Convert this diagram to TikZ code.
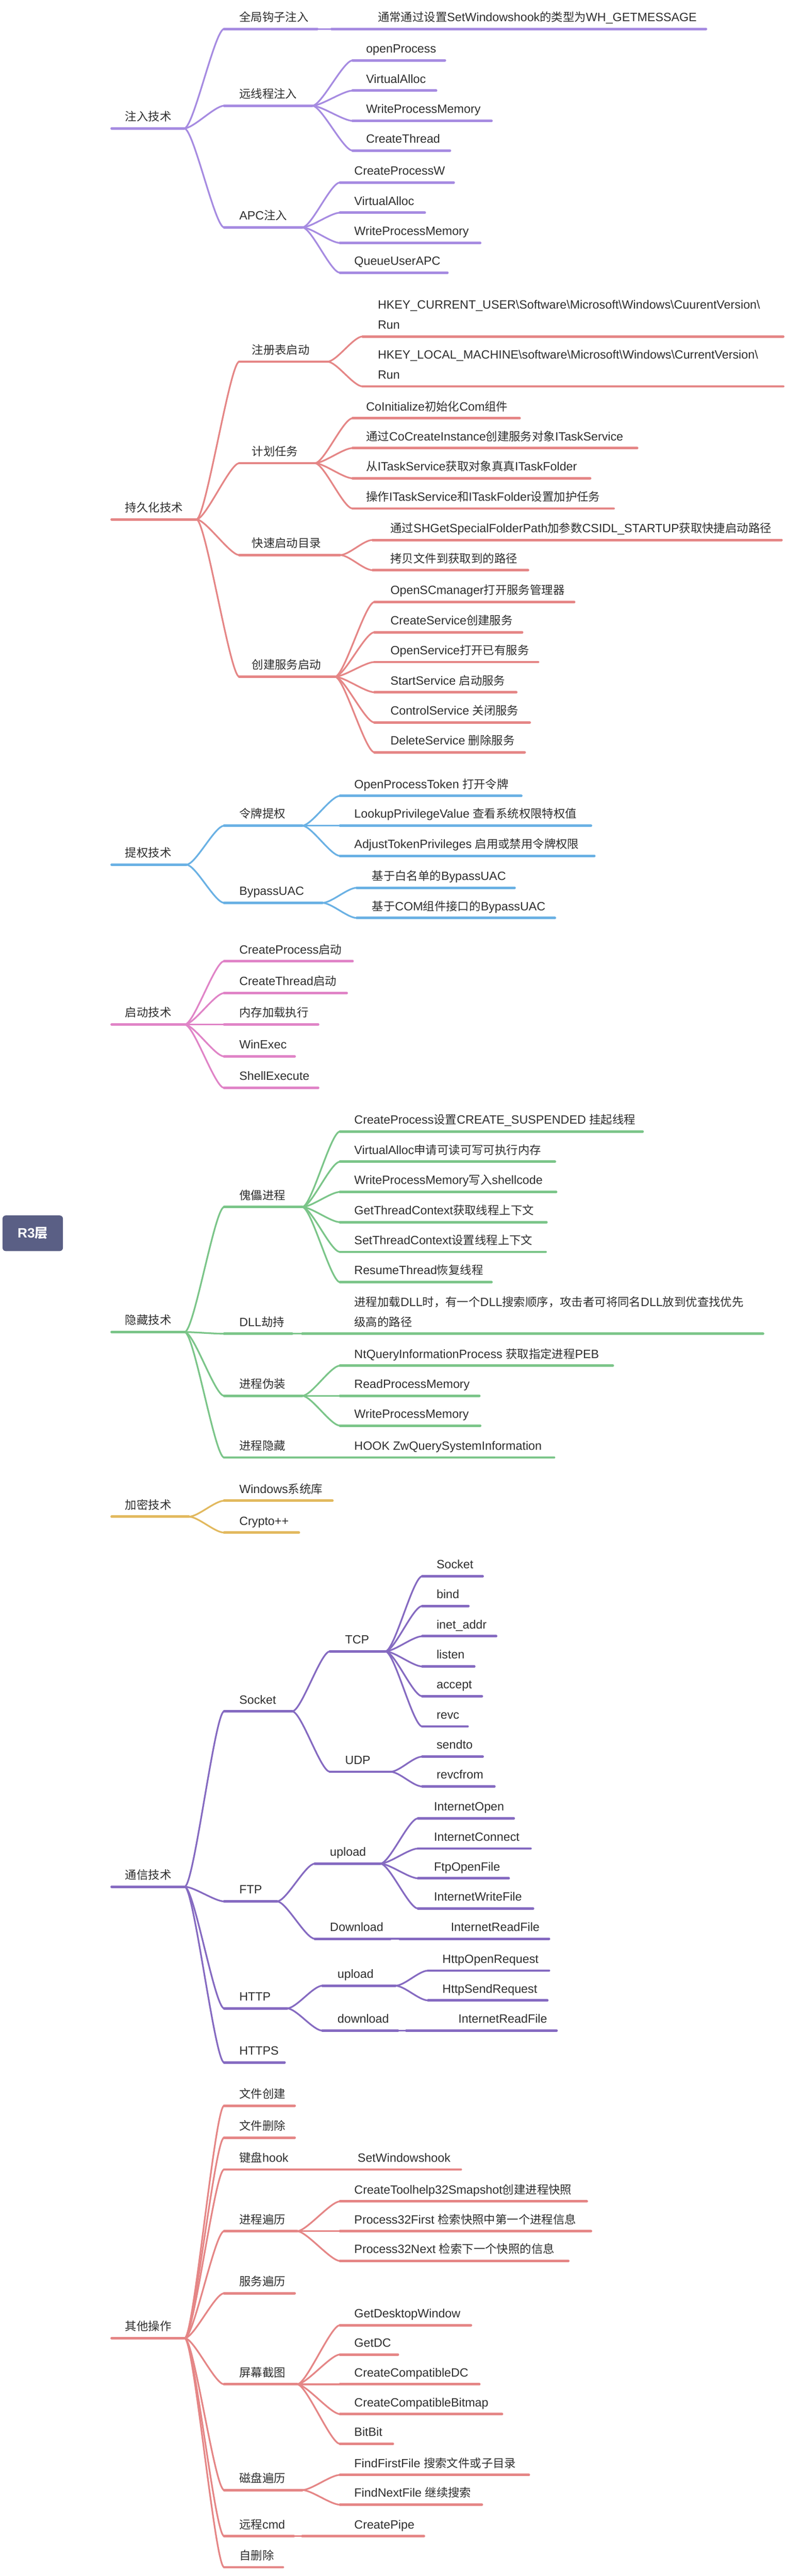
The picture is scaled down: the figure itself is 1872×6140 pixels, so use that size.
\documentclass[tikz,border=0pt]{standalone}
\usepackage{fontspec}
\setmainfont{Liberation Sans}[Scale=1.04]
\newfontfamily\cjk{Noto Sans CJK SC}
\usetikzlibrary{calc}
\pgfdeclarelayer{background}
\pgfsetlayers{background,main}
% automatic switch to the CJK font for Chinese characters
\XeTeXinterchartokenstate=1
\newXeTeXintercharclass\CJKcls
\newcount\cjkcnt
\cjkcnt="4E00
\loop
  \XeTeXcharclass\cjkcnt=\CJKcls
  \ifnum\cjkcnt<"9FFF \advance\cjkcnt by 1
\repeat
\XeTeXcharclass"FF0C=\CJKcls
\XeTeXcharclass"3001=\CJKcls
\XeTeXcharclass"3002=\CJKcls
\XeTeXinterchartoks 0 \CJKcls = {\cjk}
\XeTeXinterchartoks 4095 \CJKcls = {\cjk}
\XeTeXinterchartoks \CJKcls 0 = {\rmfamily}
\XeTeXinterchartoks \CJKcls 4095 = {\rmfamily}

\definecolor{purpleA}{HTML}{A68BE1}
\definecolor{redA}{HTML}{E58686}
\definecolor{blueA}{HTML}{6AB1E4}
\definecolor{pinkA}{HTML}{E084C7}
\definecolor{greenA}{HTML}{7BC589}
\definecolor{yellowA}{HTML}{E2B95E}
\definecolor{purpleB}{HTML}{856AC1}
\definecolor{rootc}{HTML}{5A5F85}
\definecolor{textc}{HTML}{2E2E2E}

\tikzset{
  txt/.style={inner sep=0pt, anchor=base west, text=textc, font=\fontsize{27.5}{47.5}\selectfont},
  uline/.style={line width=6pt, line cap=round},
  cline/.style={line width=4pt, line cap=round},
  rline/.style={line width=3.5pt, line cap=round},
  rootbox/.style={rectangle, rounded corners=8pt, fill=rootc, text=white, inner sep=0pt,
    minimum width=144pt, minimum height=85pt, font=\bfseries\fontsize{31}{36}\selectfont},
}
% name, colour, text x, underline y, underline start, underline end, text
\newcommand\mnode[7]{%
  \coordinate (#1-s) at (#5,#4);
  \coordinate (#1-e) at (#6,#4);
  \draw[uline,draw=#2] (#1-s) -- (#1-e);
  \node[txt] (#1) at (#3,#4-18) {#7};}
\newcommand\conn[3]{\draw[cline,draw=#1] (#2-e) .. controls ($(#2-e)+(22,0)$) and ($(#3-s)+(-22,0)$) .. (#3-s);}
\newcommand\rconn[4]{\draw[rline,draw=#1] (#2) .. controls ($(#2)+(#4)$) and ($(#3-s)+(-40,0)$) .. (#3-s);}
\newcommand\twol[2]{\begin{tabular}[b]{@{}l@{}}#1\\#2\end{tabular}}

\begin{document}
\begin{tikzpicture}[x=1pt,y=-1pt]
\useasboundingbox (0,0) rectangle (1872,6140);
\fill[white] (0,0) rectangle (1872,6140);

% ---------- root ----------
\node[rootbox] (root) at (78,2939.5) {R3层};
\coordinate (rA) at ($(root.north west)+(104,6)$);
\coordinate (rB) at ($(root.north west)+(112,6)$);
\coordinate (rC) at ($(root.north west)+(120,6)$);
\coordinate (rD) at ($(root.north west)+(128,6)$);
\coordinate (rE) at ($(root.south west)+(140,-6)$);
\coordinate (rF) at ($(root.south west)+(124,-6)$);
\coordinate (rG) at ($(root.south west)+(114,-6)$);
\coordinate (rH) at ($(root.south west)+(104,-6)$);

% ---------- level 1 ----------
\mnode{L1a}{purpleA}{298}{306}{266}{439}{注入技术}
\mnode{L1b}{redA}{298}{1238}{266}{468}{持久化技术}
\mnode{L1c}{blueA}{298}{2061}{266}{444}{提权技术}
\mnode{L1d}{pinkA}{298}{2442}{266}{440}{启动技术}
\mnode{L1e}{greenA}{298}{3175}{266}{440}{隐藏技术}
\mnode{L1f}{yellowA}{298}{3615}{266}{450}{加密技术}
\mnode{L1g}{purpleB}{298}{4497}{266}{440}{通信技术}
\mnode{L1h}{redA}{298}{5573}{266}{440}{其他操作}

\begin{pgfonlayer}{background}
\rconn{purpleA}{rA}{L1a}{25,-150}
\rconn{redA}{rB}{L1b}{25,-150}
\rconn{blueA}{rC}{L1c}{25,-150}
\rconn{pinkA}{rD}{L1d}{25,-150}
\rconn{greenA}{rE}{L1e}{22,75}
\rconn{yellowA}{rF}{L1f}{25,150}
\rconn{purpleB}{rG}{L1g}{25,150}
\rconn{redA}{rH}{L1h}{25,150}
\end{pgfonlayer}

% ---------- 注入技术 ----------
\mnode{a1}{purpleA}{570}{69}{534}{756}{全局钩子注入}
\mnode{a1a}{purpleA}{900}{69}{790}{1682}{通常通过设置SetWindowshook的类型为WH\_GETMESSAGE}
\mnode{a2}{purpleA}{570}{252}{534}{744}{远线程注入}
\mnode{a2a}{purpleA}{872}{144}{840}{1060}{openProcess}
\mnode{a2b}{purpleA}{872}{216}{840}{1039}{VirtualAlloc}
\mnode{a2c}{purpleA}{872}{288}{840}{1171}{WriteProcessMemory}
\mnode{a2d}{purpleA}{872}{359}{840}{1072}{CreateThread}
\mnode{a3}{purpleA}{570}{542}{534}{720}{APC注入}
\mnode{a3a}{purpleA}{844}{435}{810}{1081}{CreateProcessW}
\mnode{a3b}{purpleA}{844}{507}{810}{1012}{VirtualAlloc}
\mnode{a3c}{purpleA}{844}{579}{810}{1144}{WriteProcessMemory}
\mnode{a3d}{purpleA}{844}{650}{810}{1066}{QueueUserAPC}
\foreach \c in {a1,a2,a3} {\conn{purpleA}{L1a}{\c}}
\conn{purpleA}{a1}{a1a}
\foreach \c in {a2a,a2b,a2c,a2d} {\conn{purpleA}{a2}{\c}}
\foreach \c in {a3a,a3b,a3c,a3d} {\conn{purpleA}{a3}{\c}}

% ---------- 持久化技术 ----------
\mnode{b1}{redA}{600}{862}{570}{780}{注册表启动}
\mnode{b1a}{redA}{900}{802}{864}{1866}{\twol{HKEY\_CURRENT\_USER\textbackslash Software\textbackslash Microsoft\textbackslash Windows\textbackslash CuurentVersion\textbackslash}{Run}}
\mnode{b1b}{redA}{900}{921}{864}{1866}{\twol{HKEY\_LOCAL\_MACHINE\textbackslash software\textbackslash Microsoft\textbackslash Windows\textbackslash CurrentVersion\textbackslash}{Run}}
\mnode{b2}{redA}{600}{1104}{570}{750}{计划任务}
\mnode{b2a}{redA}{872}{997}{840}{1238}{CoInitialize初始化Com组件}
\mnode{b2b}{redA}{872}{1068}{840}{1518}{通过CoCreateInstance创建服务对象ITaskService}
\mnode{b2c}{redA}{872}{1140}{840}{1406}{从ITaskService获取对象真真ITaskFolder}
\mnode{b2d}{redA}{872}{1212}{840}{1462}{操作ITaskService和ITaskFolder设置加护任务}
\mnode{b3}{redA}{600}{1323}{570}{810}{快速启动目录}
\mnode{b3a}{redA}{930}{1287}{888}{1862}{通过SHGetSpecialFolderPath加参数CSIDL\_STARTUP获取快捷启动路径}
\mnode{b3b}{redA}{930}{1359}{888}{1258}{拷贝文件到获取到的路径}
\mnode{b4}{redA}{600}{1613}{570}{798}{创建服务启动}
\mnode{b4a}{redA}{930}{1435}{892}{1368}{OpenSCmanager打开服务管理器}
\mnode{b4b}{redA}{930}{1507}{892}{1244}{CreateService创建服务}
\mnode{b4c}{redA}{930}{1578}{892}{1282}{OpenService打开已有服务}
\mnode{b4d}{redA}{930}{1650}{892}{1230}{StartService 启动服务}
\mnode{b4e}{redA}{930}{1722}{892}{1262}{ControlService 关闭服务}
\mnode{b4f}{redA}{930}{1793}{892}{1250}{DeleteService 删除服务}
\foreach \c in {b1,b2,b3,b4} {\conn{redA}{L1b}{\c}}
\foreach \c in {b1a,b1b} {\conn{redA}{b1}{\c}}
\foreach \c in {b2a,b2b,b2c,b2d} {\conn{redA}{b2}{\c}}
\foreach \c in {b3a,b3b} {\conn{redA}{b3}{\c}}
\foreach \c in {b4a,b4b,b4c,b4d,b4e,b4f} {\conn{redA}{b4}{\c}}

% ---------- 提权技术 ----------
\mnode{c1}{blueA}{570}{1968}{534}{720}{令牌提权}
\mnode{c1a}{blueA}{844}{1897}{810}{1242}{OpenProcessToken 打开令牌}
\mnode{c1b}{blueA}{844}{1968}{810}{1408}{LookupPrivilegeValue 查看系统权限特权值}
\mnode{c1c}{blueA}{844}{2040}{810}{1416}{AdjustTokenPrivileges 启用或禁用令牌权限}
\mnode{c2}{blueA}{570}{2152}{534}{768}{BypassUAC}
\mnode{c2a}{blueA}{886}{2116}{850}{1226}{基于白名单的BypassUAC}
\mnode{c2b}{blueA}{886}{2188}{850}{1322}{基于COM组件接口的BypassUAC}
\foreach \c in {c1,c2} {\conn{blueA}{L1c}{\c}}
\foreach \c in {c1a,c1b,c1c} {\conn{blueA}{c1}{\c}}
\foreach \c in {c2a,c2b} {\conn{blueA}{c2}{\c}}

% ---------- 启动技术 ----------
\mnode{d1}{pinkA}{570}{2291}{534}{840}{CreateProcess启动}
\mnode{d2}{pinkA}{570}{2367}{534}{826}{CreateThread启动}
\mnode{d3}{pinkA}{570}{2442}{534}{758}{内存加载执行}
\mnode{d4}{pinkA}{570}{2518}{534}{702}{WinExec}
\mnode{d5}{pinkA}{570}{2593}{534}{758}{ShellExecute}
\foreach \c in {d1,d2,d3,d4,d5} {\conn{pinkA}{L1d}{\c}}

% ---------- 隐藏技术 ----------
\mnode{e1}{greenA}{570}{2877}{534}{720}{傀儡进程}
\mnode{e1a}{greenA}{844}{2697}{810}{1531}{CreateProcess设置CREATE\_SUSPENDED 挂起线程}
\mnode{e1b}{greenA}{844}{2769}{810}{1322}{VirtualAlloc申请可读可写可执行内存}
\mnode{e1c}{greenA}{844}{2841}{810}{1325}{WriteProcessMemory写入shellcode}
\mnode{e1d}{greenA}{844}{2913}{810}{1302}{GetThreadContext获取线程上下文}
\mnode{e1e}{greenA}{844}{2984}{810}{1300}{SetThreadContext设置线程上下文}
\mnode{e1f}{greenA}{844}{3056}{810}{1171}{ResumeThread恢复线程}
\mnode{e2}{greenA}{570}{3179}{534}{696}{DLL劫持}
\mnode{e2a}{greenA}{844}{3179}{720}{1818}{\twol{进程加载DLL时，有一个DLL搜索顺序，攻击者可将同名DLL放到优查找优先}{级高的路径}}
\mnode{e3}{greenA}{570}{3327}{534}{720}{进程伪装}
\mnode{e3a}{greenA}{844}{3255}{810}{1460}{NtQueryInformationProcess 获取指定进程PEB}
\mnode{e3b}{greenA}{844}{3327}{810}{1142}{ReadProcessMemory}
\mnode{e3c}{greenA}{844}{3398}{810}{1144}{WriteProcessMemory}
\mnode{e4}{greenA}{570}{3474}{534}{696}{进程隐藏}
\mnode{e4a}{greenA}{844}{3474}{720}{1320}{HOOK ZwQuerySystemInformation}
\foreach \c in {e1,e2,e3,e4} {\conn{greenA}{L1e}{\c}}
\foreach \c in {e1a,e1b,e1c,e1d,e1e,e1f} {\conn{greenA}{e1}{\c}}
\conn{greenA}{e2}{e2a}
\foreach \c in {e3a,e3b,e3c} {\conn{greenA}{e3}{\c}}
\conn{greenA}{e4}{e4a}

% ---------- 加密技术 ----------
\mnode{f1}{yellowA}{570}{3577}{534}{792}{Windows系统库}
\mnode{f2}{yellowA}{570}{3653}{534}{712}{Crypto++}
\foreach \c in {f1,f2} {\conn{yellowA}{L1f}{\c}}

% ---------- 通信技术 ----------
\mnode{g1}{purpleB}{570}{4079}{534}{696}{Socket}
\mnode{g1a}{purpleB}{822}{3936}{786}{918}{TCP}
\mnode{g1a1}{purpleB}{1040}{3757}{1006}{1150}{Socket}
\mnode{g1a2}{purpleB}{1040}{3828}{1006}{1116}{bind}
\mnode{g1a3}{purpleB}{1040}{3900}{1006}{1182}{inet\_addr}
\mnode{g1a4}{purpleB}{1040}{3972}{1006}{1130}{listen}
\mnode{g1a5}{purpleB}{1040}{4043}{1006}{1148}{accept}
\mnode{g1a6}{purpleB}{1040}{4115}{1006}{1114}{revc}
\mnode{g1b}{purpleB}{822}{4223}{786}{930}{UDP}
\mnode{g1b1}{purpleB}{1040}{4187}{1006}{1150}{sendto}
\mnode{g1b2}{purpleB}{1040}{4258}{1006}{1178}{revcfrom}
\mnode{g2}{purpleB}{570}{4532}{534}{660}{FTP}
\mnode{g2a}{purpleB}{786}{4442}{750}{906}{upload}
\mnode{g2a1}{purpleB}{1034}{4334}{996}{1224}{InternetOpen}
\mnode{g2a2}{purpleB}{1034}{4406}{996}{1264}{InternetConnect}
\mnode{g2a3}{purpleB}{1034}{4477}{996}{1212}{FtpOpenFile}
\mnode{g2a4}{purpleB}{1034}{4549}{996}{1270}{InternetWriteFile}
\mnode{g2b}{purpleB}{786}{4621}{750}{930}{Download}
\mnode{g2b1}{purpleB}{1074}{4621}{952}{1308}{InternetReadFile}
\mnode{g3}{purpleB}{570}{4787}{534}{684}{HTTP}
\mnode{g3a}{purpleB}{804}{4733}{768}{942}{upload}
\mnode{g3a1}{purpleB}{1054}{4697}{1020}{1308}{HttpOpenRequest}
\mnode{g3a2}{purpleB}{1054}{4768}{1020}{1304}{HttpSendRequest}
\mnode{g3b}{purpleB}{804}{4840}{768}{948}{download}
\mnode{g3b1}{purpleB}{1092}{4840}{968}{1326}{InternetReadFile}
\mnode{g4}{purpleB}{570}{4916}{534}{678}{HTTPS}
\foreach \c in {g1,g2,g3,g4} {\conn{purpleB}{L1g}{\c}}
\foreach \c in {g1a,g1b} {\conn{purpleB}{g1}{\c}}
\foreach \c in {g1a1,g1a2,g1a3,g1a4,g1a5,g1a6} {\conn{purpleB}{g1a}{\c}}
\foreach \c in {g1b1,g1b2} {\conn{purpleB}{g1b}{\c}}
\foreach \c in {g2a,g2b} {\conn{purpleB}{g2}{\c}}
\foreach \c in {g2a1,g2a2,g2a3,g2a4} {\conn{purpleB}{g2a}{\c}}
\conn{purpleB}{g2b}{g2b1}
\foreach \c in {g3a,g3b} {\conn{purpleB}{g3}{\c}}
\foreach \c in {g3a1,g3a2} {\conn{purpleB}{g3a}{\c}}
\conn{purpleB}{g3b}{g3b1}

% ---------- 其他操作 ----------
\mnode{h1}{redA}{570}{5019}{534}{702}{文件创建}
\mnode{h2}{redA}{570}{5095}{534}{702}{文件删除}
\mnode{h3}{redA}{570}{5171}{534}{700}{键盘hook}
\mnode{h3a}{redA}{852}{5171}{722}{1098}{SetWindowshook}
\mnode{h4}{redA}{570}{5318}{534}{708}{进程遍历}
\mnode{h4a}{redA}{844}{5247}{810}{1398}{CreateToolhelp32Smapshot创建进程快照}
\mnode{h4b}{redA}{844}{5318}{810}{1408}{Process32First 检索快照中第一个进程信息}
\mnode{h4c}{redA}{844}{5389}{810}{1354}{Process32Next 检索下一个快照的信息}
\mnode{h5}{redA}{570}{5466}{534}{702}{服务遍历}
\mnode{h6}{redA}{570}{5683}{534}{708}{屏幕截图}
\mnode{h6a}{redA}{844}{5542}{810}{1122}{GetDesktopWindow}
\mnode{h6b}{redA}{844}{5612}{810}{948}{GetDC}
\mnode{h6c}{redA}{844}{5683}{810}{1142}{CreateCompatibleDC}
\mnode{h6d}{redA}{844}{5754}{810}{1196}{CreateCompatibleBitmap}
\mnode{h6e}{redA}{844}{5825}{810}{936}{BitBit}
\mnode{h7}{redA}{570}{5935}{534}{720}{磁盘遍历}
\mnode{h7a}{redA}{844}{5899}{810}{1260}{FindFirstFile 搜索文件或子目录}
\mnode{h7b}{redA}{844}{5970}{810}{1148}{FindNextFile 继续搜索}
\mnode{h8}{redA}{570}{6045}{534}{700}{远程cmd}
\mnode{h8a}{redA}{844}{6045}{720}{1010}{CreatePipe}
\mnode{h9}{redA}{570}{6119}{534}{674}{自删除}
\foreach \c in {h1,h2,h3,h4,h5,h6,h7,h8,h9} {\conn{redA}{L1h}{\c}}
\conn{redA}{h3}{h3a}
\foreach \c in {h4a,h4b,h4c} {\conn{redA}{h4}{\c}}
\foreach \c in {h6a,h6b,h6c,h6d,h6e} {\conn{redA}{h6}{\c}}
\foreach \c in {h7a,h7b} {\conn{redA}{h7}{\c}}
\conn{redA}{h8}{h8a}
\end{tikzpicture}
\end{document}
